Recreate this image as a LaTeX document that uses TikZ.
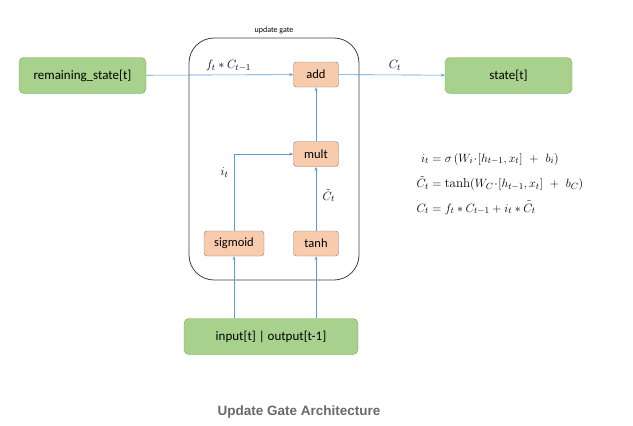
\documentclass[tikz,border=0pt]{standalone}
\usepackage{amsmath}
\usepackage{fontspec}
\setsansfont{Carlito}
\newfontfamily\capfont{Liberation Sans}
\usetikzlibrary{arrows.meta, positioning, calc}
\definecolor{cGreenFill}{RGB}{169,209,142}
\definecolor{cGreenLine}{RGB}{112,173,71}
\definecolor{cOrangeFill}{RGB}{248,203,173}
\definecolor{cGrayLine}{RGB}{127,127,127}
\definecolor{cBlue}{RGB}{91,155,213}
\definecolor{cCaption}{RGB}{105,105,105}
\tikzset{
	iobox/.style  ={rectangle, rounded corners=5pt, draw=cGreenLine, fill=cGreenFill, minimum height=36pt, align=center, font=\sffamily\fontsize{13}{15}\selectfont},
	opbox/.style  ={rectangle, rounded corners=3pt, draw=cGrayLine, fill=cOrangeFill, minimum width=45pt, minimum height=25pt, align=center, font=\sffamily\fontsize{12.5}{14}\selectfont},
	gatebox/.style={rectangle, rounded corners=25pt, draw=black!75, thick},
	flow/.style   ={-{Stealth[length=4pt, width=3pt]}, draw=cBlue, line width=0.6pt},
	mlbl/.style   ={font=\fontsize{13}{15}\selectfont},
}
\begin{document}
\begin{tikzpicture}[x=1pt, y=-1pt]
	\useasboundingbox (0,0) rectangle (633,426);
	% gate frame
	\node[gatebox, minimum width=170pt, minimum height=242pt] (gate) at (274,159) {};
	\node[font=\sffamily\fontsize{8}{9}\selectfont, above=0pt of gate.north] (gatelbl) {update gate};
	% outer blocks
	\node[iobox, minimum width=127pt] (prev) at (82.5,75.5) {remaining\_state[t]};
	\node[iobox, minimum width=127pt] (state) at (508.5,75.5) {state[t]};
	\node[iobox, minimum width=174pt] (inp) at (271,336.5) {input[t] | output[t-1]};
	% operations
	\node[opbox] (add) at (316,74.5) {add};
	\node[opbox] (mult) at (316,154) {mult};
	\node[opbox, minimum width=60pt] (sig) at (234,243.5) {sigmoid};
	\node[opbox] (tanh) at (316,243.5) {tanh};
	% connectors
	\draw[flow] (prev) -- node[pos=0.56, above=0pt, mlbl] {$f_t * C_{t-1}$} (add);
	\draw[flow] (add) -- node[pos=0.53, above=1pt, mlbl] {$C_t$} (state);
	\draw[flow] (inp.north -| sig) -- (sig);
	\draw[flow] (inp.north -| tanh) -- (tanh);
	\draw[flow] (sig) |- node[pos=0.38, left=2pt, mlbl] {$i_t$} (mult);
	\draw[flow] (tanh) -- node[pos=0.55, right=3pt, mlbl] {$\tilde{C}_t$} (mult);
	\draw[flow] (mult) -- (add);
	% equations
	\node[mlbl, align=left] (eqs) at (500,184) {$\begin{aligned}
		i_t &= \sigma\left(W_i\!\cdot\![h_{t-1},x_t]\ +\ b_i\right)\\[6pt]
		\tilde{C}_t &= \tanh(W_C\!\cdot\![h_{t-1},x_t]\ +\ b_C)\\[5pt]
		C_t &= f_t * C_{t-1} + i_t * \tilde{C}_t
	\end{aligned}$};
	% caption
	\node[font=\capfont\bfseries\fontsize{13.5}{15}\selectfont, text=cCaption] (cap) at (299,412) {Update Gate Architecture};
\end{tikzpicture}
\end{document}
